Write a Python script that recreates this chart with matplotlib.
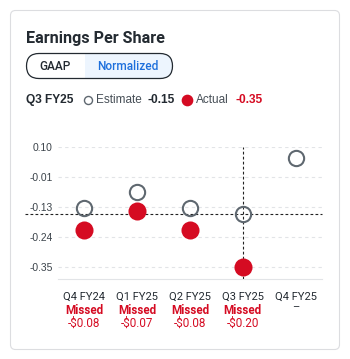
import matplotlib.pyplot as plt
import numpy as np
from matplotlib.patches import FancyBboxPatch, Rectangle

quarters = ["Q4 FY24", "Q1 FY25", "Q2 FY25", "Q3 FY25", "Q4 FY25"]
estimates = [-0.13, -0.07, -0.13, -0.15, 0.06]
actuals = [-0.21, -0.14, -0.21, -0.35, None]
surprise = ["-$0.08", "-$0.07", "-$0.08", "-$0.20", None]
y_ticks = np.linspace(-0.35, 0.10, 5)
y_labels = ["-0.35", "-0.24", "-0.13", "-0.01", "0.10"]
selected = 3

RED = "#d50b22"
GREY = "#5f6870"
DARK = "#232a31"
W, H = 350, 359
HELV = ["Liberation Sans", "DejaVu Sans"]

plt.rcParams["font.family"] = ["Roboto", "DejaVu Sans"]
fig = plt.figure(figsize=(W / 100, H / 100), dpi=100)

# overlay in pixel coords for card, title, toggle, legend
ov = fig.add_axes([0, 0, 1, 1])
ov.set_xlim(0, W)
ov.set_ylim(H, 0)
ov.axis("off")

ov.add_patch(FancyBboxPatch((10.5, 10.5), 329, 339, boxstyle="round,pad=0,rounding_size=5",
                            fc="white", ec="#dcdde0", lw=0.8))
ov.text(26, 39, "Earnings Per Share", fontsize=11.6, fontweight="bold", color=DARK, va="center")

pill = FancyBboxPatch((26.5, 53.5), 146, 25, boxstyle="round,pad=0,rounding_size=12.5",
                      fc="#edf5fe", ec="none")
ov.add_patch(pill)
left = Rectangle((20, 50), 65, 32, fc="white", ec="none")
ov.add_patch(left)
left.set_clip_path(pill)
ov.add_patch(FancyBboxPatch((26.5, 53.5), 146, 25, boxstyle="round,pad=0,rounding_size=12.5",
                            fc="none", ec=DARK, lw=0.9))
ov.text(55.5, 66, "GAAP", fontsize=8.6, fontweight="medium", color=DARK, ha="center", va="center")
ov.text(128, 66, "Normalized", fontsize=8.6, fontweight="medium", color="#1d6fdc", ha="center", va="center")

ly = 100
ov.text(26, ly, quarters[selected], fontsize=8.6, fontweight="bold", color=DARK, va="center", family=HELV)
ov.plot([87.5], [ly], "o", ms=5.8, mfc="white", mec=GREY, mew=1.0)
ov.text(96, ly, "Estimate", fontsize=8.5, color="#464e56", va="center", family=HELV)
ov.text(147, ly, f"{estimates[selected]:.2f}", fontsize=8.6, fontweight="bold", color=DARK, va="center",
        family=HELV)
ov.plot([186.7], [ly], "o", ms=7.4, color=RED)
ov.text(196, ly, "Actual", fontsize=8.5, color="#464e56", va="center", family=HELV)
ov.text(235, ly, f"{actuals[selected]:.2f}", fontsize=8.6, fontweight="bold", color=RED, va="center",
        family=HELV)

# main chart
ax = fig.add_axes([58 / W, 1 - 279 / H, 264 / W, 132 / H])
x = np.arange(len(quarters))
ax.set_xlim(-0.5, len(quarters) - 0.5)
ax.set_ylim(-0.395, 0.10)
for t in y_ticks:
    ax.axhline(t, color="#e2e4e7", lw=0.8, ls=(0, (3, 3)), zorder=0)
for s in ["top", "right", "left"]:
    ax.spines[s].set_visible(False)
ax.spines["bottom"].set_color("#e2e4e7")
ax.spines["bottom"].set_linewidth(0.8)
ax.set_yticks(y_ticks)
ax.set_yticklabels(y_labels, fontsize=7.4, color="#3b434a", family=HELV)
ax.tick_params(axis="y", length=0, pad=4)
ax.set_xticks([])

# crosshair on the selected quarter
ax.axvline(x[selected], ymin=0, ymax=1, color="#222", lw=0.8, ls=(0, (2.5, 2)), zorder=1)
ax.plot([-1.12, 4.5], [estimates[selected]] * 2, color="#222", lw=0.8, ls=(0, (2.5, 2)),
        zorder=1, clip_on=False)

act_x = [i for i, v in enumerate(actuals) if v is not None]
act_y = [v for v in actuals if v is not None]
ax.plot(act_x, act_y, "o", ms=13, color=RED, mec="none", ls="none", zorder=3, clip_on=False)
ax.plot(x, estimates, "o", ms=11, mfc="none", mec=GREY, mew=1.5, ls="none", zorder=4, clip_on=False)

for i, q in enumerate(quarters):
    px = 58 + 264 * (i + 0.5) / len(quarters)
    ov.text(px, 297, q, fontsize=8, color=DARK, ha="center", va="center")
    if surprise[i] is None:
        ov.text(px, 307, "\u2013", fontsize=8, color=DARK, ha="center", va="center")
    else:
        ov.text(px, 310, "Missed", fontsize=8.4, fontweight="bold", color=RED, ha="center", va="center")
        ov.text(px, 323.5, surprise[i], fontsize=8.4, color=RED, ha="center", va="center")

ov.set_zorder(-1)
fig.savefig("out.png", dpi=100)
